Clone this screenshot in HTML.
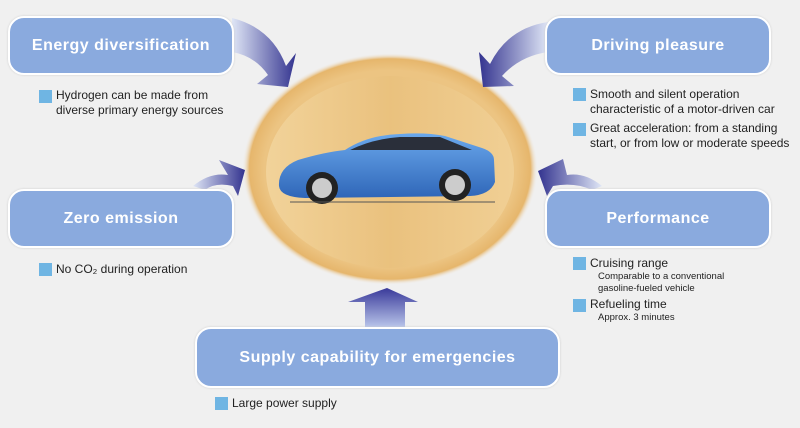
<!DOCTYPE html><html><head><style>
body{margin:0;width:800px;height:428px;background:#f0f0f0;font-family:"Liberation Sans",sans-serif;position:relative;overflow:hidden}
.box{position:absolute;background:#8aaade;border:2px solid #fff;border-radius:16px;color:#fff;font-weight:bold;font-size:16px;display:flex;align-items:center;justify-content:center;letter-spacing:.5px;box-shadow:0 0 2px #ccc}
.t{position:absolute;font-size:12px;color:#222;line-height:15px}
.sq{position:absolute;width:13px;height:13px;background:#6fb5e3}
.s{font-size:9.5px;line-height:12px;margin-left:8px}
</style></head><body>
<svg width="800" height="428" style="position:absolute;left:0;top:0">
<defs>
<radialGradient id="eg" cx="50%" cy="50%" r="50%"><stop offset="0.85" stop-color="#ecc482"/><stop offset="0.95" stop-color="#e6b66c"/><stop offset="1" stop-color="#f0f0f0" stop-opacity="0"/></radialGradient>
<linearGradient id="band" x1="0" x2="1"><stop offset="0" stop-color="#f4d9a4"/><stop offset="0.5" stop-color="#e9c07c"/><stop offset="1" stop-color="#f2d49c"/></linearGradient>
<linearGradient id="a1" x1="0" x2="1"><stop offset="0" stop-color="#dfe6f6"/><stop offset="1" stop-color="#33338f"/></linearGradient>
<linearGradient id="a2" x1="1" x2="0"><stop offset="0" stop-color="#dfe6f6"/><stop offset="1" stop-color="#33338f"/></linearGradient>
<linearGradient id="a3" x1="0" y1="1" x2="0" y2="0"><stop offset="0" stop-color="#b8c4ea"/><stop offset="1" stop-color="#3a3a9a"/></linearGradient>
<linearGradient id="car" x1="0" y1="0" x2="0" y2="1"><stop offset="0" stop-color="#6aa8ec"/><stop offset="1" stop-color="#2f66b8"/></linearGradient>
</defs>
<ellipse cx="390" cy="169" rx="148" ry="116" fill="url(#eg)"/>
<ellipse cx="390" cy="172" rx="124" ry="96" fill="url(#band)" opacity=".7"/>
<path d="M232,18 Q272,28 286,66 L296,53 L288,87 L257,84 L268,75 Q255,56 232,52Z" fill="url(#a1)"/>
<path d="M548,22 Q508,28 490,64 L479,52 L483,87 L514,86 L502,76 Q520,56 548,52Z" fill="url(#a2)"/>
<path d="M193,186 Q210,172 228,175 L219,160 L245,170 L238,196 L233,186 Q215,182 205,190Z" fill="url(#a1)"/>
<path d="M602,186 Q585,172 567,175 L563,159 L538,171 L547,196 L553,186 Q575,182 592,190Z" fill="url(#a2)"/>
<path d="M365,327 L365,302 L348,302 L387,288 L418,302 L405,302 L405,327Z" fill="url(#a3)"/>
<g>
<path d="M279,186 Q278,168 298,160 Q325,152 345,150 Q368,135 400,134 Q425,132 445,136 L482,148 Q494,152 494,160 L495,182 Q490,195 470,196 L305,198 Q280,197 279,186Z" fill="url(#car)"/>
<path d="M350,150 Q372,139 400,137 L440,137 L472,150 Z" fill="#2a2f3a"/>
<circle cx="322" cy="188" r="16" fill="#222"/><circle cx="322" cy="188" r="10" fill="#ccc"/>
<circle cx="455" cy="185" r="16" fill="#222"/><circle cx="455" cy="185" r="10" fill="#ccc"/>
<rect x="290" y="201" width="205" height="2" fill="#555" opacity=".5"/>
</g>
</svg>
<div class="box" style="left:8px;top:16px;width:222px;height:55px">Energy diversification</div>
<div class="box" style="left:545px;top:16px;width:222px;height:55px">Driving pleasure</div>
<div class="box" style="left:8px;top:189px;width:222px;height:55px">Zero emission</div>
<div class="box" style="left:545px;top:189px;width:222px;height:55px">Performance</div>
<div class="box" style="left:195px;top:327px;width:361px;height:57px">Supply capability for emergencies</div>
<div class="sq" style="left:39px;top:90px"></div><div class="t" style="left:56px;top:88px">Hydrogen can be made from<br>diverse primary energy sources</div>
<div class="sq" style="left:573px;top:88px"></div><div class="t" style="left:590px;top:87px">Smooth and silent operation<br>characteristic of a motor-driven car</div>
<div class="sq" style="left:573px;top:123px"></div><div class="t" style="left:590px;top:121px">Great acceleration: from a standing<br>start, or from low or moderate speeds</div>
<div class="sq" style="left:39px;top:263px"></div><div class="t" style="left:56px;top:262px">No CO₂ during operation</div>
<div class="sq" style="left:573px;top:257px"></div><div class="t" style="left:590px;top:256px">Cruising range<div class="s">Comparable to a conventional<br>gasoline-fueled vehicle</div></div>
<div class="sq" style="left:573px;top:299px"></div><div class="t" style="left:590px;top:297px">Refueling time<div class="s">Approx. 3 minutes</div></div>
<div class="sq" style="left:215px;top:397px"></div><div class="t" style="left:232px;top:396px">Large power supply</div>
</body></html>
